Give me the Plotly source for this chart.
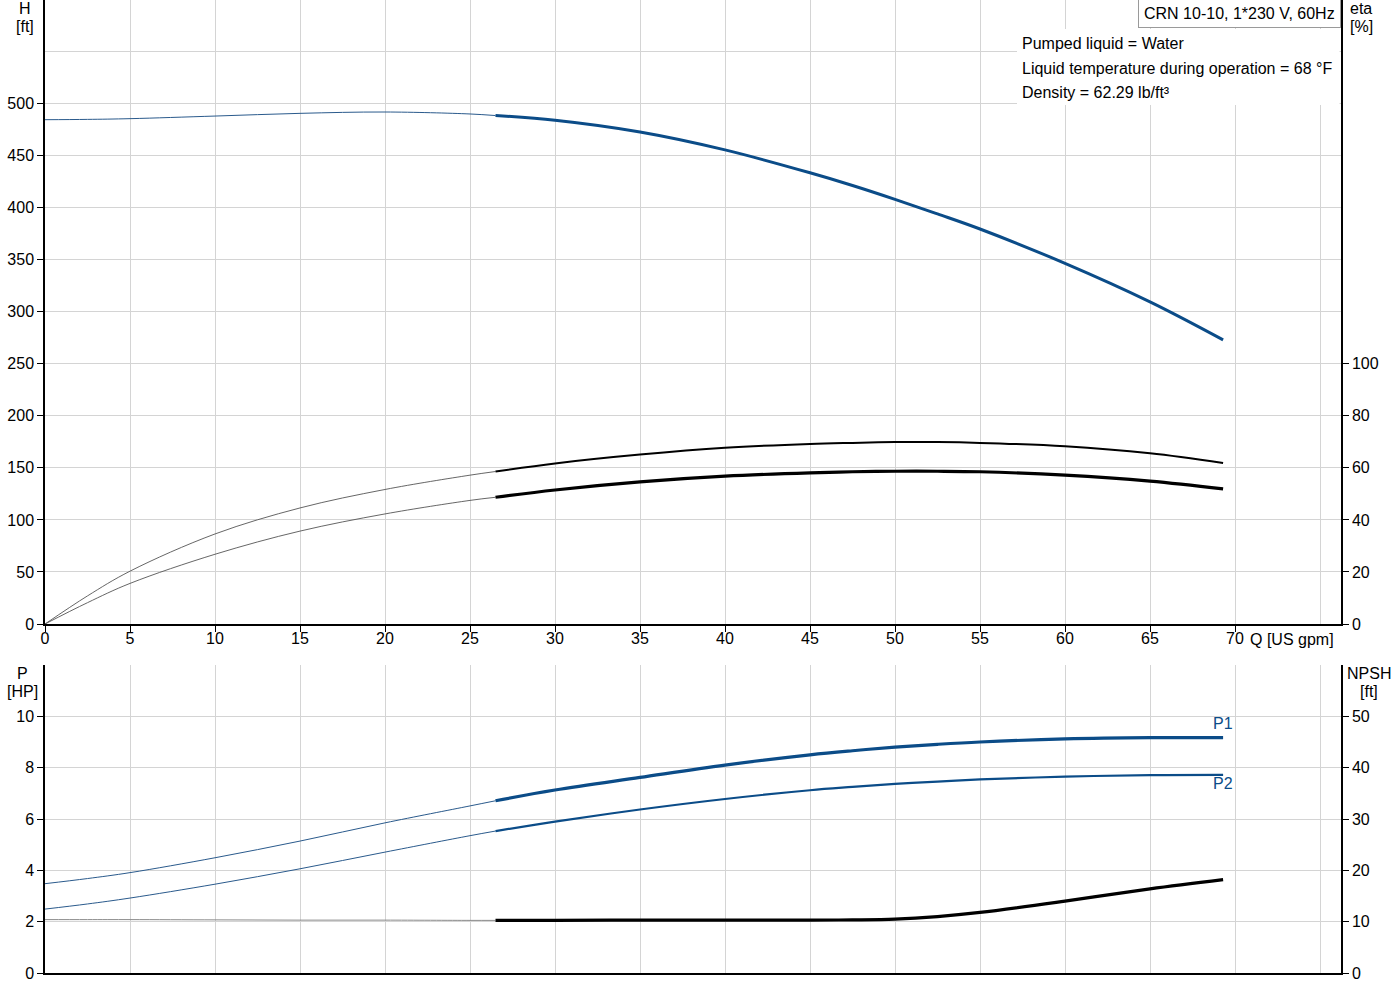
import plotly.graph_objects as go

# ---------------- data ----------------
Q_GPM   = [0, 2.5, 5, 10, 15, 20, 25, 26.5, 30, 35, 40, 45, 47.5, 50, 52.5, 55, 60, 65, 69.3]
HEAD_FT = [484.5, 484.8, 485.5, 488.0, 490.6, 491.9, 490.0, 488.5, 484.0, 472.7, 455.5, 433.5,
           421.3, 408.0, 394.0, 379.5, 346.5, 309.5, 273.0]
ETA_TOT = [0, 10.8, 20.3, 34.6, 44.6, 51.7, 57.2, 58.6, 61.7, 65.1, 67.7, 69.2, 69.6, 69.9,
           69.9, 69.6, 68.3, 65.6, 61.9]
ETA_PMP = [0, 8.2, 15.6, 26.8, 35.7, 42.3, 47.5, 48.7, 51.5, 54.6, 56.8, 58.1, 58.5, 58.7,
           58.7, 58.5, 57.2, 54.9, 51.9]
P1_HP   = [3.48, 3.68, 3.91, 4.49, 5.14, 5.85, 6.51, 6.71, 7.13, 7.62, 8.10, 8.50, 8.66, 8.80,
           8.91, 9.00, 9.12, 9.17, 9.17]
P2_HP   = [2.49, 2.69, 2.92, 3.46, 4.06, 4.71, 5.35, 5.53, 5.90, 6.37, 6.78, 7.12, 7.25, 7.37,
           7.46, 7.54, 7.65, 7.71, 7.72]
NPSH_FT = [10.4, 10.4, 10.4, 10.35, 10.3, 10.3, 10.25, 10.25, 10.25, 10.3, 10.3, 10.3, 10.35,
           10.5, 11.0, 11.8, 14.0, 16.4, 18.2]

SPLIT_Q = 26.5                      # start of the recommended duty range
Q_TICKS = [0, 5, 10, 15, 20, 25, 30, 35, 40, 45, 50, 55, 60, 65, 70]
H_TICKS = [0, 50, 100, 150, 200, 250, 300, 350, 400, 450, 500]
ETA_TICKS = [0, 20, 40, 60, 80, 100]
P_TICKS = [0, 2, 4, 6, 8, 10]
NPSH_TICKS = [0, 10, 20, 30, 40, 50]

TITLE_BOX = "CRN 10-10, 1*230 V, 60Hz"
INFO_LINES = ["Pumped liquid = Water",
              "Liquid temperature during operation = 68 °F",
              "Density = 62.29 lb/ft³"]

# ---------------- styling ----------------
BLUE = "#0b4c88"
GRID = "#d4d4d4"
FONT = "Liberation Sans, Arial, sans-serif"
W, H = 1400, 1000
ML, MR, MT, MB = 45, 59, 0, 27
PW, PH = W - ML - MR, H - MT - MB


def px(x):
    return (x - ML) / PW


def py(y):
    return (H - MB - y) / PH


def part(xs, ys, thin):
    pts = [(a, b) for a, b in zip(xs, ys) if (a <= SPLIT_Q if thin else a >= SPLIT_Q)]
    return [p[0] for p in pts], [p[1] for p in pts]


fig = go.Figure()


def add(xs, ys, xa, ya, color_thin, w_thin, color_thick, w_thick):
    for thin in (True, False):
        x, y = part(xs, ys, thin)
        fig.add_trace(go.Scatter(
            x=x, y=y, xaxis=xa, yaxis=ya, mode="lines", hoverinfo="skip",
            line=dict(color=color_thin if thin else color_thick,
                      width=w_thin if thin else w_thick, shape="spline", smoothing=1.0),
            showlegend=False))


add(Q_GPM, HEAD_FT, "x", "y", "#2a5a8c", 1.0, BLUE, 3.0)
add(Q_GPM, ETA_TOT, "x", "y2", "#555555", 0.9, "#000000", 2.0)
add(Q_GPM, ETA_PMP, "x", "y2", "#555555", 0.9, "#000000", 3.2)
add(Q_GPM, P1_HP, "x2", "y3", "#2a5a8c", 1.0, BLUE, 3.2)
add(Q_GPM, P2_HP, "x2", "y3", "#2a5a8c", 1.0, BLUE, 2.2)
add(Q_GPM, NPSH_FT, "x2", "y4", "#8a8a8a", 1.0, "#000000", 3.2)

XR = [0, (W - MR - ML) / 17.0]       # 17 px per US gpm
HR = [0, 599.5]
tick_font = dict(family=FONT, size=16, color="#000000")

common_axis = dict(showline=True, linecolor="#000000", linewidth=1.5, zeroline=False,
                   tickfont=tick_font, tickcolor="#000000", ticklen=6, tickwidth=1)

fig.update_layout(
    width=W, height=H,
    margin=dict(l=ML, r=MR, t=MT, b=MB, pad=0),
    paper_bgcolor="white", plot_bgcolor="white",
    font=dict(family=FONT, size=16, color="#000000"),
    showlegend=False,
    xaxis=dict(domain=[0, 1], anchor="y", range=XR, tickmode="array", tickvals=Q_TICKS,
               ticktext=[str(v) for v in Q_TICKS], ticks="outside", showgrid=True,
               gridcolor=GRID, gridwidth=1, ticklabelstandoff=-7,
               minor=dict(tickmode="array", tickvals=[75], showgrid=True, gridcolor=GRID,
                          ticks=""),
               **common_axis),
    yaxis=dict(domain=[py(624), 1], anchor="x", range=HR, tickmode="array", tickvals=H_TICKS,
               ticks="outside", showgrid=True, gridcolor=GRID, gridwidth=1,
               minor=dict(tickmode="array", tickvals=[550], showgrid=True, gridcolor=GRID,
                          ticks=""),
               **common_axis),
    yaxis2=dict(overlaying="y", side="right", anchor="x", range=[0, HR[1] * 0.4],
                tickmode="array", tickvals=ETA_TICKS, ticks="outside", showgrid=False,
                **common_axis),
    xaxis2=dict(domain=[0, 1], anchor="y3", range=XR, tickmode="array",
                tickvals=Q_TICKS + [75], showticklabels=False, ticks="", showgrid=True,
                gridcolor=GRID, gridwidth=1, **common_axis),
    yaxis3=dict(domain=[0, py(665)], anchor="x2", range=[0, 12], tickmode="array",
                tickvals=P_TICKS, ticks="outside", showgrid=True, gridcolor=GRID, gridwidth=1,
                minor=dict(tickmode="array", tickvals=[12], showgrid=True, gridcolor=GRID,
                           ticks=""),
                **common_axis),
    yaxis4=dict(overlaying="y3", side="right", anchor="x2", range=[0, 60], tickmode="array",
                tickvals=NPSH_TICKS, ticks="outside", showgrid=False, **common_axis),
)

# white panel behind the liquid information
fig.add_shape(type="rect", xref="paper", yref="paper", x0=px(1017), x1=px(1339.5),
              y0=py(105), y1=py(29), fillcolor="white", line=dict(width=0), layer="above")

ann = []


def label(text, x, y, xanchor="center", color="#000000", **kw):
    ann.append(dict(text=text, xref="paper", yref="paper", x=px(x), y=py(y),
                    xanchor=xanchor, yanchor="middle", showarrow=False,
                    font=dict(family=FONT, size=16, color=color), **kw))


label("H", 25, 8)
label("[ft]", 25, 26)
label("eta", 1361, 8)
label("[%]", 1361, 26)
label("P", 22, 673)
label("[HP]", 22, 691)
label("NPSH", 1369, 673)
label("[ft]", 1369, 691)
label("Q [US gpm]", 1292, 639)
for i, t in enumerate(INFO_LINES):
    label(t, 1020, 44 + 24 * i, xanchor="left")

ann.append(dict(text=TITLE_BOX, xref="paper", yref="paper", x=1.0, y=py(-1),
                xanchor="right", yanchor="top", showarrow=False, bgcolor="white",
                bordercolor="#9a9a9a", borderwidth=1, borderpad=5,
                font=dict(family=FONT, size=16, color="#000000")))

# curve labels at the end of the power curves
ann.append(dict(text="P1", x=Q_GPM[-1], y=P1_HP[-1], xref="x2", yref="y3", xanchor="center",
                yanchor="middle", yshift=14, showarrow=False,
                font=dict(family=FONT, size=16, color=BLUE)))
ann.append(dict(text="P2", x=Q_GPM[-1], y=P2_HP[-1], xref="x2", yref="y3", xanchor="center",
                yanchor="middle", yshift=-9, showarrow=False,
                font=dict(family=FONT, size=16, color=BLUE)))

fig.update_layout(annotations=ann)

fig.write_html("out.html", config={"displayModeBar": False},
               post_script="document.body.style.margin='0';document.body.style.overflow='hidden';")
